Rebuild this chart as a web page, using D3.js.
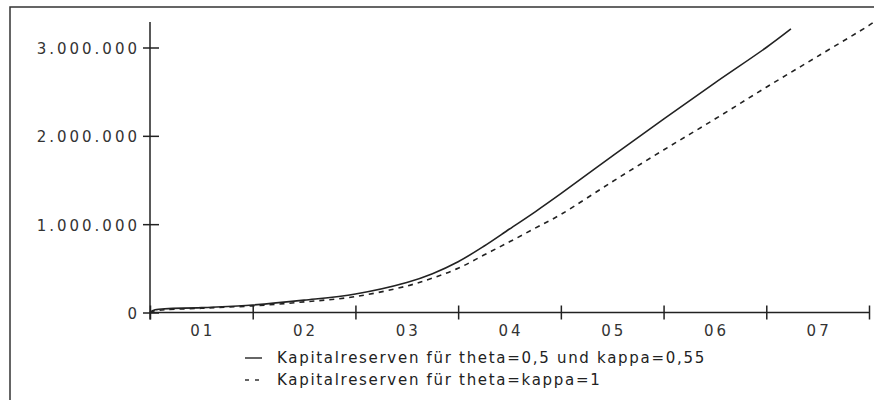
<!DOCTYPE html>
<html><head><meta charset="utf-8">
<script src="https://cdn.jsdelivr.net/npm/d3@7"></script>
<style>
html,body{margin:0;padding:0;background:#fff;}
svg{display:block;}
</style></head>
<body>
<svg id="c" width="874" height="400"></svg>
<script>
// ---- data ----
const xCategories = ["01","02","03","04","05","06","07"];
const yTickValues = [0, 1000000, 2000000, 3000000];
const seriesNames = ["Kapitalreserven für theta=0,5 und kappa=0,55", "Kapitalreserven für theta=kappa=1"];
// time in years (x position) and capital reserves
const solidT = [0, 0.05, 0.5, 1, 1.5, 2, 2.5, 2.75, 3, 3.25, 3.5, 3.75, 4, 4.5, 5, 5.5, 6, 6.24];
const solidV = [0, 30000, 55000, 85000, 140000, 210000, 340000, 440000, 575000, 750000, 945000, 1140000, 1345000, 1770000, 2190000, 2600000, 3000000, 3210000];
const dashedT = [0, 0.05, 0.5, 1, 1.5, 2, 2.5, 2.75, 3, 3.25, 3.5, 3.75, 4, 4.5, 5, 5.5, 6, 6.5, 7, 7.05];
const dashedV = [0, 20000, 48000, 75000, 120000, 180000, 300000, 390000, 500000, 650000, 800000, 955000, 1110000, 1480000, 1840000, 2190000, 2550000, 2900000, 3250000, 3290000];

const svg = d3.select("#c");
const ink = "#222";

// outer frame
svg.append("rect").attr("x",10).attr("y",7).attr("width",900).attr("height",420)
  .attr("fill","none").attr("stroke","#333").attr("stroke-width",1.5);

const x = d3.scaleLinear().domain([0, 7]).range([150, 869]);
const y = d3.scaleLinear().domain([0, 3000000]).range([312.5, 47.5]);

const loc = d3.formatLocale({decimal:",", thousands:".", grouping:[3], currency:["","€"]});
const fmt = loc.format(",d");

const font = "DejaVu Sans, Verdana, sans-serif";

// y axis
const yAx = svg.append("g").attr("transform", `translate(${x(0)},0)`)
  .call(d3.axisLeft(y).tickValues(yTickValues).tickFormat(fmt).tickSize(7).tickPadding(0));
yAx.select(".domain").remove();
yAx.selectAll(".tick line").attr("x1",-7).attr("x2",9).attr("stroke",ink).attr("stroke-width",1.5);
yAx.selectAll(".tick text").attr("x",-10).attr("dy","0.4em")
  .style("font-family",font).style("font-size","15px").style("letter-spacing","3px").attr("fill","#333");
svg.append("line").attr("x1",x(0)).attr("x2",x(0)).attr("y1",y(3290000)).attr("y2",y(0)+7)
  .attr("stroke",ink).attr("stroke-width",1.5);

// x axis
const xAx = svg.append("g").attr("transform", `translate(0,${y(0)})`)
  .call(d3.axisBottom(x).tickValues(d3.range(0,8)).tickFormat("").tickSize(7));
xAx.select(".domain").remove();
xAx.selectAll(".tick line").attr("y1",-7).attr("y2",7).attr("stroke",ink).attr("stroke-width",1.5);
svg.append("line").attr("x1",x(0)).attr("x2",x(7)).attr("y1",y(0)).attr("y2",y(0))
  .attr("stroke",ink).attr("stroke-width",1.5);
svg.append("g").selectAll("text").data(xCategories).join("text")
  .attr("x",(d,i)=>x(i+0.5)+1.5).attr("y",y(0)+23).attr("text-anchor","middle")
  .style("font-family",font).style("font-size","15px").style("letter-spacing","3px").attr("fill","#333")
  .text(d=>d);

// lines
const line = d3.line().x(d=>x(d[0])).y(d=>y(d[1])).curve(d3.curveCatmullRom.alpha(0.5));
const solidData = solidT.map((t,i)=>[t, solidV[i]]);
const dashedData = dashedT.map((t,i)=>[t, dashedV[i]]);
svg.append("path").datum(solidData).attr("d",line).attr("fill","none")
  .attr("stroke",ink).attr("stroke-width",1.6);
svg.append("path").datum(dashedData).attr("d",line).attr("fill","none")
  .attr("stroke",ink).attr("stroke-width",1.6).attr("stroke-dasharray","5,5");

// legend
const leg = svg.append("g");
const legY = [358, 380];
leg.append("line").attr("x1",245).attr("x2",262).attr("y1",legY[0]).attr("y2",legY[0])
  .attr("stroke","#333").attr("stroke-width",1.5);
leg.append("line").attr("x1",245).attr("x2",263).attr("y1",legY[1]).attr("y2",legY[1])
  .attr("stroke","#333").attr("stroke-width",1.5).attr("stroke-dasharray","4,6");
leg.selectAll("text").data(seriesNames).join("text")
  .attr("x",277).attr("y",(d,i)=>legY[i]+5)
  .style("font-family",font).style("font-size","15px").style("letter-spacing","1.7px").attr("fill","#222")
  .text(d=>d);
</script>
</body></html>
